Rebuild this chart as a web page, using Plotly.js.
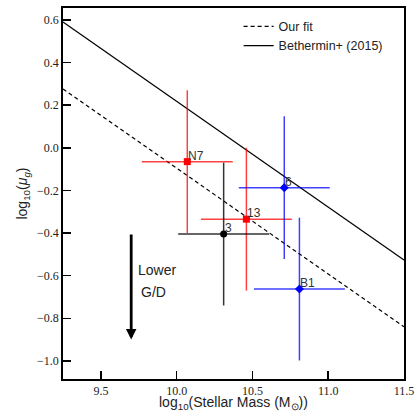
<!DOCTYPE html>
<html><head><meta charset="utf-8">
<script src="https://cdn.plot.ly/plotly-3.0.1.min.js"></script>
<style>html,body{margin:0;padding:0;background:#fff}</style>
</head><body>
<div id="plot" style="width:418px;height:413px"></div>
<script>
// Data
const labels   = ["N7", "13", "3", "6", "B1"];
const logMass  = [10.07, 10.46, 10.31, 10.71, 10.81];
const logMuG   = [-0.065, -0.335, -0.405, -0.187, -0.663];
const massErr  = [0.30, 0.30, 0.30, 0.30, 0.30];
const muErr    = [0.335, 0.335, 0.335, 0.335, 0.335];
const groups   = ["red", "red", "black", "blue", "blue"];

// Fit lines (endpoints of the plotted range)
const lineX        = [9.25, 11.5];
const ourFitY      = [0.276, -0.840];
const bethY        = [0.590, -0.527];

// Arrow
const arrowX = 9.7, arrowTop = -0.40, arrowBottom = -0.90;

const styles = {
  red:   {color: "#ff0000", err: "rgba(255,0,0,0.75)", symbol: "square"},
  black: {color: "#000000", err: "rgba(0,0,0,0.8)", symbol: "circle"},
  blue:  {color: "#0000ff", err: "rgba(0,0,255,0.75)", symbol: "diamond"}
};

const traces = [];
traces.push({x: lineX, y: ourFitY, mode: "lines", name: "Our fit",
  line: {color: "black", width: 1.2, dash: "4px,3px"}});
traces.push({x: lineX, y: bethY, mode: "lines", name: "Bethermin+ (2015)",
  line: {color: "black", width: 1.2}});

for (let i = 0; i < labels.length; i++) {
  const s = styles[groups[i]];
  traces.push({
    x: [logMass[i]], y: [logMuG[i]], mode: "markers", showlegend: false,
    marker: {color: s.color, symbol: s.symbol, size: 7},
    error_x: {type: "data", array: [massErr[i]], color: s.err, thickness: 1.5, width: 0},
    error_y: {type: "data", array: [muErr[i]], color: s.err, thickness: 1.5, width: 0}
  });
}

const annotations = labels.map((t, i) => ({
  x: logMass[i], y: logMuG[i], xref: "x", yref: "y", text: t, showarrow: false,
  xanchor: "left", yanchor: "bottom", xshift: -1, yshift: -3,
  font: {family: "Liberation Sans, Arial, sans-serif", size: 12, color: "#333"}
}));
annotations.push({
  x: arrowX, y: arrowBottom, ax: arrowX, ay: arrowTop, xref: "x", yref: "y",
  axref: "x", ayref: "y", text: "", showarrow: true, arrowhead: 2, arrowsize: 0.75,
  arrowwidth: 2.8, arrowcolor: "black"
});
annotations.push({x: 9.868, y: -0.574, xref: "x", yref: "y", text: "Lower", showarrow: false,
  font: {family: "Liberation Sans, Arial, sans-serif", size: 14, color: "#222"}});
annotations.push({x: 9.845, y: -0.675, xref: "x", yref: "y", text: "G/D", showarrow: false,
  font: {family: "Liberation Sans, Arial, sans-serif", size: 14, color: "#222"}});
// x-axis title placed as annotation for precise position
annotations.push({x: 0.5, y: 0, xref: "paper", yref: "paper", yanchor: "top", yshift: -13,
  text: "log<sub>10</sub>(Stellar Mass (M<sub>⊙</sub>))", showarrow: false,
  font: {family: "Liberation Sans, Arial, sans-serif", size: 14, color: "#222"}});

const axisCommon = {
  showgrid: false, zeroline: false, showline: true, mirror: true,
  linecolor: "black", linewidth: 1.8, ticks: "inside", ticklen: 8, tickwidth: 1.5,
  tickcolor: "black",
  tickfont: {family: "Liberation Serif, DejaVu Serif, serif", size: 12, color: "#222"}
};

const layout = {
  width: 418, height: 413,
  margin: {l: 63, r: 14, t: 8, b: 34},
  paper_bgcolor: "white", plot_bgcolor: "white",
  showlegend: true,
  legend: {x: 0.515, y: 0.99, xanchor: "left", yanchor: "top", bgcolor: "rgba(0,0,0,0)",
    font: {family: "Liberation Sans, Arial, sans-serif", size: 12.5, color: "#222"},
    tracegroupgap: 0},
  xaxis: Object.assign({}, axisCommon, {
    range: [9.25, 11.5], tickvals: [9.5, 10.0, 10.5, 11.0, 11.5],
    ticktext: ["9.5", "10.0", "10.5", "11.0", "11.5"], automargin: false
  }),
  yaxis: Object.assign({}, axisCommon, {
    range: [-1.085, 0.656], tickvals: [-1.0, -0.8, -0.6, -0.4, -0.2, 0.0, 0.2, 0.4, 0.6],
    ticktext: ["\u22121.0", "\u22120.8", "\u22120.6", "\u22120.4", "\u22120.2", "0.0", "0.2", "0.4", "0.6"],
    title: {text: "log<sub>10</sub>(<i>μ<sub>g</sub></i>)", standoff: 6,
      font: {family: "Liberation Sans, Arial, sans-serif", size: 14, color: "#222"}}
  }),
  annotations: annotations
};

Plotly.newPlot("plot", traces, layout, {displayModeBar: false, staticPlot: true});
</script>
</body></html>
